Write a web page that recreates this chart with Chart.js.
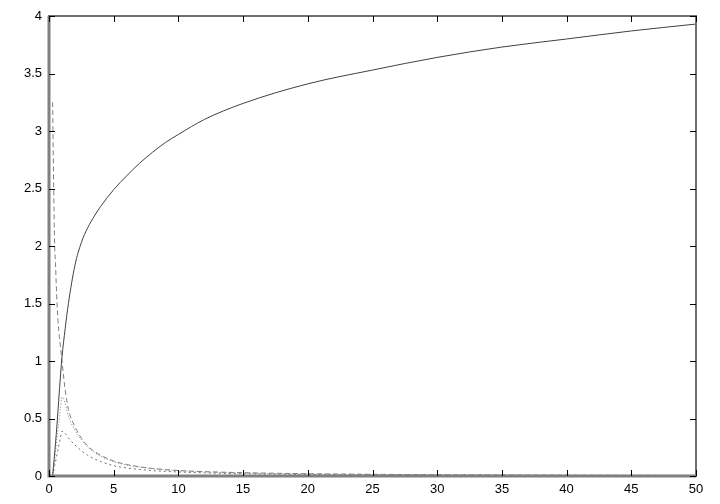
<!DOCTYPE html>
<html>
<head>
<meta charset="utf-8">
<script src="https://cdn.jsdelivr.net/npm/chart.js@4/dist/chart.umd.min.js"></script>
<style>
  body { margin: 0; background: #fff; }
  #wrap { width: 720px; height: 504px; }
</style>
</head>
<body>
<div id="wrap"><canvas id="plot"></canvas></div>
<script>
// sample positions along x
var xValues = [0.28, 0.35, 0.44, 0.5, 0.62, 0.75, 0.88, 1, 1.25, 1.5, 2, 2.5, 3, 3.5, 4, 5, 6, 7, 8, 9, 10, 12, 15, 20, 25, 30, 35, 40, 45, 50];

// rising solid curve
var solidY = [0, 0.09, 0.2, 0.28, 0.45, 0.66, 0.86, 1.03, 1.28, 1.5, 1.83, 2.03, 2.16, 2.26, 2.345, 2.49, 2.61, 2.72, 2.815, 2.9, 2.97, 3.1, 3.24, 3.41, 3.53, 3.64, 3.73, 3.80, 3.87, 3.93];
// falling dashed curve
var dashedY = [3.25, 2.6, 2.0, 1.85, 1.5, 1.27, 1.13, 1.0, 0.75, 0.58, 0.43, 0.33, 0.26, 0.215, 0.18, 0.13, 0.1, 0.08, 0.066, 0.056, 0.048, 0.038, 0.029, 0.02, 0.015, 0.011, 0.009, 0.007, 0.006, 0.005];
// upper dotted hump
var dottedY = [0, 0.066, 0.15, 0.21, 0.33, 0.45, 0.58, 0.685, 0.63, 0.52, 0.4, 0.315, 0.25, 0.205, 0.17, 0.125, 0.095, 0.077, 0.063, 0.053, 0.045, 0.035, 0.026, 0.017, 0.012, 0.009, 0.007, 0.006, 0.005, 0.004];
// lower short-dash hump
var lowerY = [0, 0.04, 0.09, 0.12, 0.19, 0.26, 0.33, 0.39, 0.37, 0.33, 0.27, 0.22, 0.18, 0.15, 0.125, 0.09, 0.07, 0.057, 0.047, 0.04, 0.035, 0.027, 0.02, 0.013, 0.01, 0.008, 0.006, 0.005, 0.004, 0.004];

var xTicks = [0, 5, 10, 15, 20, 25, 30, 35, 40, 45, 50];
var yTicks = [0, 0.5, 1, 1.5, 2, 2.5, 3, 3.5, 4];

function pts(ys) {
  var out = [];
  for (var i in xValues) {
    out.push({x: xValues[i], y: ys[i]});
  }
  return out;
}

function line(ys, color, dash) {
  return {
    data: pts(ys),
    borderColor: color,
    borderWidth: 1,
    borderDash: dash,
    pointRadius: 0,
    fill: false,
    cubicInterpolationMode: 'monotone'
  };
}

// gnuplot style: plain numbers, no trailing .0
function plain(v) {
  return String(+(+v).toFixed(1));
}

// box frame with inward ticks on every side
var frame = {
  id: 'frame',
  afterDatasetsDraw: function(chart) {
    var ctx = chart.ctx, a = chart.chartArea;
    var xs = chart.scales.x, ys = chart.scales.y;
    ctx.save();
    ctx.strokeStyle = '#707070';
    ctx.lineWidth = 2;
    ctx.strokeRect(a.left, a.top, a.right - a.left, a.bottom - a.top);
    // left and bottom edges a bit heavier
    ctx.strokeStyle = '#808080';
    ctx.lineWidth = 3;
    ctx.beginPath();
    ctx.moveTo(a.left, a.top); ctx.lineTo(a.left, a.bottom); ctx.lineTo(a.right, a.bottom);
    ctx.stroke();
    ctx.strokeStyle = '#000';
    ctx.lineWidth = 1;
    ctx.beginPath();
    xTicks.forEach(function(v) {
      var p = Math.round(xs.getPixelForValue(v)) + 0.5;
      ctx.moveTo(p, a.bottom); ctx.lineTo(p, a.bottom - 6);
      ctx.moveTo(p, a.top); ctx.lineTo(p, a.top + 6);
    });
    yTicks.forEach(function(v) {
      var p = Math.round(ys.getPixelForValue(v)) + 0.5;
      ctx.moveTo(a.left, p); ctx.lineTo(a.left + 6, p);
      ctx.moveTo(a.right, p); ctx.lineTo(a.right - 6, p);
    });
    ctx.stroke();
    ctx.restore();
  }
};

var ctx = document.getElementById('plot');

new Chart(ctx, {
  type: 'scatter',
  data: {
    datasets: [
      line(solidY, '#404040', []),
      line(dashedY, '#808080', [5, 3]),
      line(dottedY, '#808080', [1, 2]),
      line(lowerY, '#707070', [2, 3])
    ]
  },
  options: {
    responsive: true,
    maintainAspectRatio: false,
    animation: false,
    showLine: true,
    layout: { padding: { top: 16, right: 24, left: 0, bottom: 0 } },
    plugins: { legend: { display: false }, tooltip: { enabled: false } },
    scales: {
      x: {
        type: 'linear',
        min: 0,
        max: 50,
        grid: { display: false, drawTicks: false },
        border: { display: false },
        ticks: {
          stepSize: 5,
          padding: 6,
          maxRotation: 0,
          color: '#000',
          font: { family: 'Liberation Sans', size: 13 },
          callback: plain
        },
        afterFit: function(scale) { scale.height = 28; }
      },
      y: {
        min: 0,
        max: 4,
        grid: { display: false, drawTicks: false },
        border: { display: false },
        ticks: {
          stepSize: 0.5,
          padding: 7,
          color: '#000',
          font: { family: 'Liberation Sans', size: 13 },
          callback: plain
        },
        afterFit: function(scale) { scale.width = 49; }
      }
    }
  },
  plugins: [frame]
});
</script>
</body>
</html>
